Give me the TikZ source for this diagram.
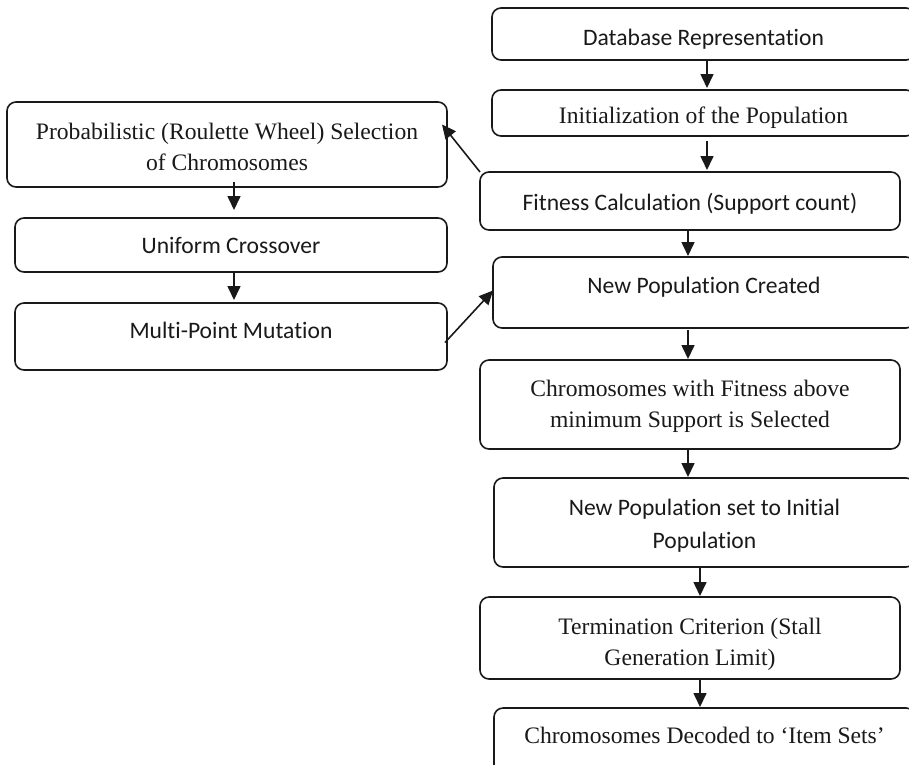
\documentclass[tikz,border=0pt]{standalone}
\usepackage{fontspec}
\setmainfont{Liberation Serif}
\newfontfamily\calfont[Ligatures=NoCommon]{Carlito}
\usetikzlibrary{arrows.meta}
\begin{document}
\begin{tikzpicture}[x=1pt,y=-1pt,
  box/.style={draw=black!90, line width=1.6pt, rounded corners=9pt, inner sep=0pt, outer sep=0pt},
  lbl/.style={anchor=base, align=center, inner sep=0pt, text=black!90},
  sans/.style={lbl, font=\calfont\fontsize{23.6}{33}\selectfont},
  serif/.style={lbl, font=\fontsize{23.6}{31}\selectfont},
  arr/.style={draw=black!90, line width=1.6pt, -{Triangle[length=14pt,width=13pt]}}]
\useasboundingbox (0,0) rectangle (909,764);
\clip (0,0) rectangle (909,764);
% right column boxes
\node[box, minimum width=423pt, minimum height=52pt] (db) at (703.5,34) {};
\node[box, minimum width=423pt, minimum height=46pt] (init) at (703.5,113) {};
\node[box, minimum width=420pt, minimum height=58pt] (fit) at (690,201) {};
\node[box, minimum width=422pt, minimum height=71pt] (newpop) at (704,292.5) {};
\node[box, minimum width=420pt, minimum height=89pt] (chrom) at (690,404.5) {};
\node[box, minimum width=421pt, minimum height=89pt] (newset) at (704.5,522.5) {};
\node[box, minimum width=420pt, minimum height=82pt] (term) at (690,638) {};
\node[box, minimum width=421pt, minimum height=67pt] (dec) at (704.5,741.5) {};
% left column boxes
\node[box, minimum width=440pt, minimum height=85pt] (prob) at (227,144.5) {};
\node[box, minimum width=432pt, minimum height=54pt] (uni) at (231,245) {};
\node[box, minimum width=432pt, minimum height=67pt] (mut) at (231,336.5) {};
% labels (anchor base = baseline of the last line)
\node[sans] (tdb) at (703.5,45) {Database Representation};
\node[serif] (tinit) at (703.5,123) {Initialization of the Population};
\node[sans] (tfit) at (690,210) {Fitness Calculation (Support count)};
\node[sans] (tnewpop) at (704,293) {New Population Created};
\node[serif] (tchrom) at (690,427) {Chromosomes with Fitness above\\minimum Support is Selected};
\node[sans] (tnewset) at (704.5,548) {New Population set to Initial\\Population};
\node[serif] (tterm) at (690,665) {Termination Criterion (Stall\\Generation Limit)};
\node[serif] (tdec) at (704.5,743) {Chromosomes Decoded to ‘Item Sets’};
\node[serif] (tprob) at (227,170) {Probabilistic (Roulette Wheel) Selection\\of Chromosomes};
\node[sans] (tuni) at (231,253) {Uniform Crossover};
\node[sans] (tmut) at (231,338) {Multi-Point Mutation};
% arrows right column
\draw[arr, shorten >=2pt] ([xshift=3.5pt]db.south) -- ([xshift=3.5pt]init.north);
\draw[arr, shorten <=5pt, shorten >=2pt] ([xshift=3.5pt]init.south) -- ([xshift=17pt]fit.north);
\draw[arr, shorten >=1pt] ([xshift=-2pt]fit.south) -- ([xshift=-16pt]newpop.north);
\draw[arr, shorten <=2pt, shorten >=1pt] ([xshift=-16pt]newpop.south) -- ([xshift=-2pt]chrom.north);
\draw[arr, shorten >=1pt] ([xshift=-2pt]chrom.south) -- ([xshift=-2pt]chrom.south |- newset.north);
\draw[arr, shorten >=1pt] ([xshift=-4.5pt]newset.south) -- ([xshift=10pt]term.north);
\draw[arr, shorten >=1pt] ([xshift=10pt]term.south) -- ([xshift=-4.5pt]dec.north);
% arrows left column
\draw[arr, shorten <=-5pt, shorten >=8pt] ([xshift=7pt]prob.south) -- ([xshift=3pt]uni.north);
\draw[arr, shorten >=3pt] ([xshift=3pt]uni.south) -- ([xshift=3pt]mut.north);
% cross arrows
\draw[arr] (fit.north west) -- ([xshift=-5pt,yshift=20pt]prob.east);
\draw[arr] ([xshift=-2pt,yshift=-6pt]mut.east) -- ([yshift=2pt]newpop.west);
\end{tikzpicture}
\end{document}
